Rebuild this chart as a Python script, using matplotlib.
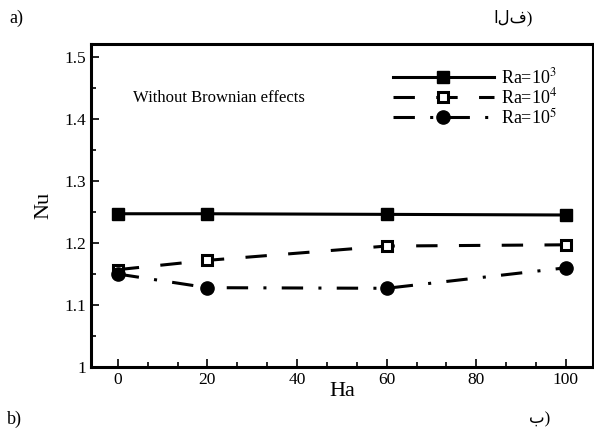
#!/usr/bin/env python3
"""Nu vs Ha for three Rayleigh numbers, without Brownian effects."""
import matplotlib
matplotlib.use("Agg")
import matplotlib.pyplot as plt
from matplotlib.ticker import MultipleLocator

plt.rcParams["font.family"] = ["Liberation Serif", "DejaVu Sans"]
plt.rcParams["mathtext.fontset"] = "stix"

ha = [0, 20, 60, 100]
nu_ra3 = [1.247, 1.247, 1.246, 1.245]
nu_ra4 = [1.157, 1.172, 1.195, 1.197]
nu_ra5 = [1.150, 1.128, 1.127, 1.160]
labels = [r"Ra=10$^3$", r"Ra=10$^4$", r"Ra=10$^5$"]

fig = plt.figure(figsize=(5.94, 4.33), dpi=100)
ax = fig.add_axes([0.153, 0.152, 0.845, 0.746])

ax.plot(ha, nu_ra3, "-", color="black", lw=2.2, marker="s", ms=8,
        mfc="black", mec="black", label=labels[0])
ax.plot(ha, nu_ra4, color="black", lw=2.2, ls=(0, (7, 7)), marker="s", ms=7.5,
        mfc="white", mec="black", mew=2.2, label=labels[1])
ax.plot(ha, nu_ra5, color="black", lw=2.2, ls=(0, (7, 5, 1, 5)), marker="o",
        ms=9.5, mfc="black", mec="black", label=labels[2])

ax.set_xlim(-6, 106)
ax.set_ylim(1.0, 1.52)
ax.xaxis.set_major_locator(MultipleLocator(20))
ax.xaxis.set_minor_locator(MultipleLocator(20 / 3))
ax.yaxis.set_major_locator(MultipleLocator(0.1))
ax.yaxis.set_minor_locator(MultipleLocator(0.05))
ax.set_yticks([1.0, 1.1, 1.2, 1.3, 1.4, 1.5])
ax.set_yticklabels(["1", "1.1", "1.2", "1.3", "1.4", "1.5"])
ax.tick_params(which="both", direction="in", top=False, right=False,
               labelsize=12.5, width=1.2)
ax.tick_params(which="major", length=6)
ax.tick_params(which="minor", length=3.5)
for s in ax.spines.values():
    s.set_linewidth(2.2)

ax.set_xlabel("Ha", fontsize=16, labelpad=-4)
ax.set_ylabel("Nu", fontsize=16, labelpad=8)

ax.text(0.084, 0.834, "Without Brownian effects", transform=ax.transAxes,
        fontsize=12, va="center")
ax.legend(loc="upper right", bbox_to_anchor=(0.962, 0.978), frameon=False,
          fontsize=13, handlelength=5.6, handletextpad=0.4, labelspacing=0.0)

fig.text(0.015, 0.958, "a)", fontsize=13, va="center")
fig.text(0.83, 0.958, "الف)", fontsize=12, va="center")
fig.text(0.012, 0.032, "b)", fontsize=13, va="center")
fig.text(0.89, 0.032, "ب)", fontsize=12, va="center")

fig.savefig("out.png", dpi=100)
